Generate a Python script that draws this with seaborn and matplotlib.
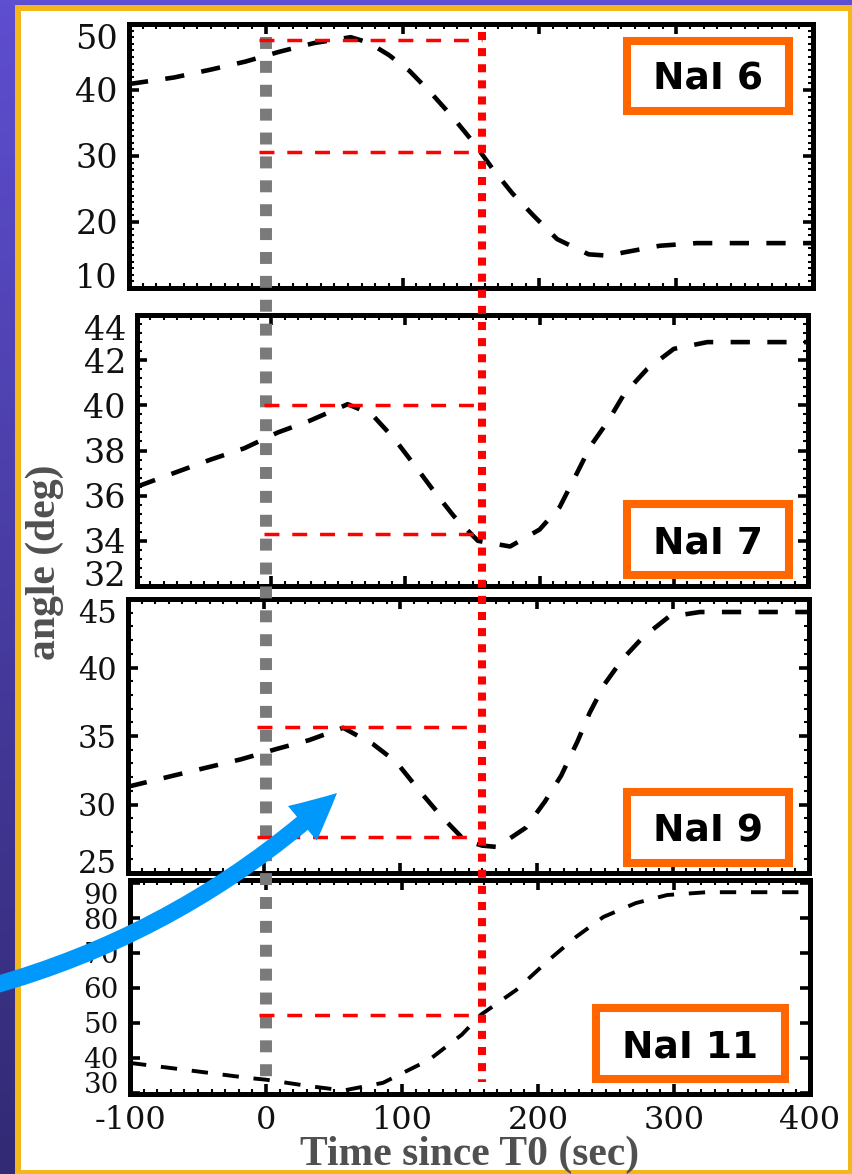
import numpy as np
import pandas as pd
import matplotlib
matplotlib.use("Agg")
import matplotlib.pyplot as plt
import seaborn as sns
from matplotlib.patches import Rectangle, FancyArrowPatch
from matplotlib.lines import Line2D
from matplotlib.ticker import MultipleLocator, NullLocator
from matplotlib.colors import LinearSegmentedColormap
import matplotlib.transforms as mtransforms

# ---------------- data ----------------
detectors = ["NaI 6", "NaI 7", "NaI 9", "NaI 11"]

time_nai6 = [-100, -67, -40, -15, 10, 35, 62, 75, 90, 105, 121, 137, 152, 166,
             180, 196, 213, 236, 250, 262, 288, 315, 350, 400]
angle_nai6 = [40.9, 41.9, 43.1, 44.3, 45.8, 47.1, 48.0, 47.2, 45.3, 42.9, 39.5,
              35.8, 32.0, 28.0, 24.4, 20.9, 17.4, 15.1, 14.9, 15.4, 16.4, 16.8,
              16.8, 16.8]

time_nai7 = [-100, -68, -45, -20, 5, 28, 57, 75, 92, 110, 120, 136, 154, 178,
             200, 215, 227, 238, 251, 263, 280, 300, 325, 360, 400]
angle_nai7 = [36.4, 37.1, 37.6, 38.1, 38.8, 39.3, 40.05, 39.6, 38.5, 37.1, 36.3,
              35.1, 34.0, 33.75, 34.5, 35.5, 36.9, 38.2, 39.3, 40.5, 41.6, 42.5,
              42.8, 42.8, 42.8]

time_nai9 = [-100, -67, -42, -17, 9, 33, 58, 80, 97, 114, 129, 147, 160, 171,
             192, 206, 218, 230, 239, 250, 263, 278, 297, 320, 360, 400]
angle_nai9 = [31.3, 32.1, 32.7, 33.3, 34.05, 34.7, 35.6, 34.4, 33.1, 31.0, 29.25,
              27.4, 27.0, 26.9, 28.3, 30.2, 32.1, 34.6, 36.7, 38.8, 40.6, 42.2,
              43.7, 44.05, 44.05, 44.05]

time_nai11 = [-100, -63, -13, 0, 31, 57, 86, 120, 144, 158, 184, 208, 228, 248,
              272, 295, 324, 360, 400]
angle_nai11 = [38.5, 36.7, 34.2, 33.7, 31.9, 30.6, 32.8, 39.4, 46.6, 52.3, 59.4,
               68.0, 74.6, 80.3, 84.3, 86.6, 87.4, 87.4, 87.4]

ref_levels_nai6 = [47.6, 30.6]
ref_levels_nai7 = [40.0, 34.3]
ref_levels_nai9 = [35.65, 27.6]
ref_levels_nai11 = [52.3]

t_trigger = 0
t_mark = 158

xticks = [-100, 0, 100, 200, 300, 400]
yticks_nai6 = [10, 20, 30, 40, 50]
yticks_nai7 = [32, 34, 36, 38, 40, 42, 44]
yticks_nai9 = [25, 30, 35, 40, 45]
yticks_nai11 = [30, 40, 50, 60, 70, 80, 90]

xlabel = "Time since T0 (sec)"
ylabel = "angle (deg)"

# ---------------- figure ----------------
sns.set_style("white")
plt.rcParams['font.family'] = ['DejaVu Serif']
plt.rcParams['axes.unicode_minus'] = False

W, H = 852, 1174
fig = plt.figure(figsize=(W / 100, H / 100), dpi=100)
fig.patch.set_facecolor('#4a3ea8')


def fx(x):
    return x / W


def fy(y):
    return 1 - y / H


def fbox(x0, y0, x1, y1):
    return [fx(x0), fy(y1), (x1 - x0) / W, (y1 - y0) / H]


# slide background
bg = fig.add_axes([0, 0, 1, 1])
bg.set_zorder(-10)
grad = np.linspace(0, 1, 256).reshape(-1, 1)
bg.imshow(grad, aspect='auto', extent=[0, 1, 0, 1],
          cmap=LinearSegmentedColormap.from_list('bg', ['#5e4ed0', '#322a74']))
bg.set_axis_off()
fig.add_artist(Rectangle((fx(15), 0), 1.0, fy(5), transform=fig.transFigure,
                         facecolor='#f3b71b', edgecolor='none', zorder=-9))
fig.add_artist(Rectangle((fx(21), fy(1170)), fx(848) - fx(21), fy(11) - fy(1170),
                         transform=fig.transFigure, facecolor='white',
                         edgecolor='none', zorder=-8))

panels = [
    dict(name=detectors[0], t=time_nai6, a=angle_nai6, refs=ref_levels_nai6,
         yticks=yticks_nai6, box=(129, 24, 813, 288), ylim=(10, 50), yminor=1,
         fs=24, lw=3.3, lbl=(623, 37, 793, 115)),
    dict(name=detectors[1], t=time_nai7, a=angle_nai7, refs=ref_levels_nai7,
         yticks=yticks_nai7, box=(137, 315, 808, 586), ylim=(32, 44), yminor=0.4,
         fs=24, lw=3.3, lbl=(623, 500, 793, 579)),
    dict(name=detectors[2], t=time_nai9, a=angle_nai9, refs=ref_levels_nai9,
         yticks=yticks_nai9, box=(128, 599, 809, 873), ylim=(25, 45), yminor=1,
         fs=22, lw=3.3, lbl=(623, 788, 793, 867)),
    dict(name=detectors[3], t=time_nai11, a=angle_nai11, refs=ref_levels_nai11,
         yticks=yticks_nai11, box=(130, 880, 810, 1094), ylim=(29.6, 90.9), yminor=None,
         fs=20, lw=2.8, lbl=(592, 1004, 789, 1083)),
]

axes = []
for i, p in enumerate(panels):
    ax = fig.add_axes(fbox(*p['box']))
    ax.set_facecolor('white')
    df = pd.DataFrame({'time': p['t'], 'angle': p['a']})
    sns.lineplot(data=df, x='time', y='angle', ax=ax, color='black',
                 lw=p['lw'], sort=False, estimator=None)
    ln = ax.lines[-1]
    ln.set_dashes([4.2, 3.8])
    ln.set_dash_capstyle('butt')
    ax.set_xlim(-100, 400)
    ax.set_ylim(*p['ylim'])
    ax.set_xticks(xticks)
    ax.set_yticks(p['yticks'])
    ax.xaxis.set_minor_locator(MultipleLocator(10))
    if p['yminor']:
        ax.yaxis.set_minor_locator(MultipleLocator(p['yminor']))
    else:
        ax.yaxis.set_minor_locator(NullLocator())
    ax.tick_params(which='both', direction='in', top=True, right=True,
                   bottom=True, left=True, colors='black')
    ax.tick_params(which='major', length=7, width=2.6)
    ax.tick_params(which='minor', length=3.5, width=1.5)
    ax.tick_params(axis='y', labelsize=p['fs'], pad=8, labelcolor='#111111')
    for sp in ax.spines.values():
        sp.set_linewidth(3.6)
        sp.set_color('black')
        sp.set_visible(True)
    ax.set_xlabel('')
    ax.set_ylabel('')
    if i < 3:
        ax.tick_params(axis='x', labelbottom=False)
    else:
        ax.tick_params(axis='x', labelsize=23, pad=8, labelcolor='#111111')
    # end labels nudged inside the panel, as in the original
    ylabs = ax.get_yticklabels()
    ylabs[0].set_verticalalignment('baseline')
    ylabs[-1].set_verticalalignment('top')
    axes.append(ax)

# vertical marker lines spanning all panels
trans = mtransforms.blended_transform_factory(axes[0].transData, fig.transFigure)
fig.add_artist(Line2D([t_trigger, t_trigger], [fy(37), fy(1082)], transform=trans,
                      color='#7a7a7a', lw=8.6, linestyle=(0, (1, 1)),
                      dash_capstyle='butt', zorder=3))

# red reference levels
for p, ax in zip(panels, axes):
    for lvl in p['refs']:
        fig.add_artist(Line2D([t_trigger - 5, t_mark], [lvl, lvl], transform=ax.transData,
                              color='#ff0000', lw=2.5, linestyle=(0, (4.3, 3.7)),
                              dash_capstyle='butt', zorder=4))

fig.add_artist(Line2D([t_mark, t_mark], [fy(32), fy(1082)], transform=trans,
                      color='#ff0000', lw=5.8, linestyle=(0, (1, 1)),
                      dash_capstyle='butt', zorder=5))

# detector label boxes
for p in panels:
    x0, y0, x1, y1 = p['lbl']
    ins = 4
    fig.add_artist(Rectangle((fx(x0 + ins), fy(y1 - ins)), fx(x1 - ins) - fx(x0 + ins),
                             fy(y0 + ins) - fy(y1 - ins), transform=fig.transFigure,
                             facecolor='white', edgecolor='#ff6600', lw=5.8, zorder=6))
    fig.text(fx((x0 + x1) / 2), fy((y0 + y1) / 2 + 14), p['name'], ha='center',
             va='baseline', fontsize=27, fontweight='bold', family='DejaVu Sans',
             color='black', zorder=7)

# axis labels
fig.text(fx(470), fy(1165), xlabel, ha='center', va='baseline', fontsize=30,
         fontweight='bold', family='Liberation Serif', color='#505050')
fig.text(fx(55), fy(562), ylabel, rotation=90, rotation_mode='anchor', ha='center',
         va='baseline', fontsize=30, fontweight='bold', family='Liberation Serif',
         color='#505050')

# blue arrow
arrow = FancyArrowPatch(posA=(fx(-8), fy(986)), posB=(fx(337), fy(793)),
                        transform=fig.transFigure, connectionstyle='arc3,rad=0.12',
                        arrowstyle='simple,head_length=0.46,head_width=0.45,tail_width=0.17',
                        mutation_scale=72, color='#0098fa', lw=0, shrinkA=0, shrinkB=0,
                        zorder=10)
fig.add_artist(arrow)

fig.savefig('out.png', dpi=100)
